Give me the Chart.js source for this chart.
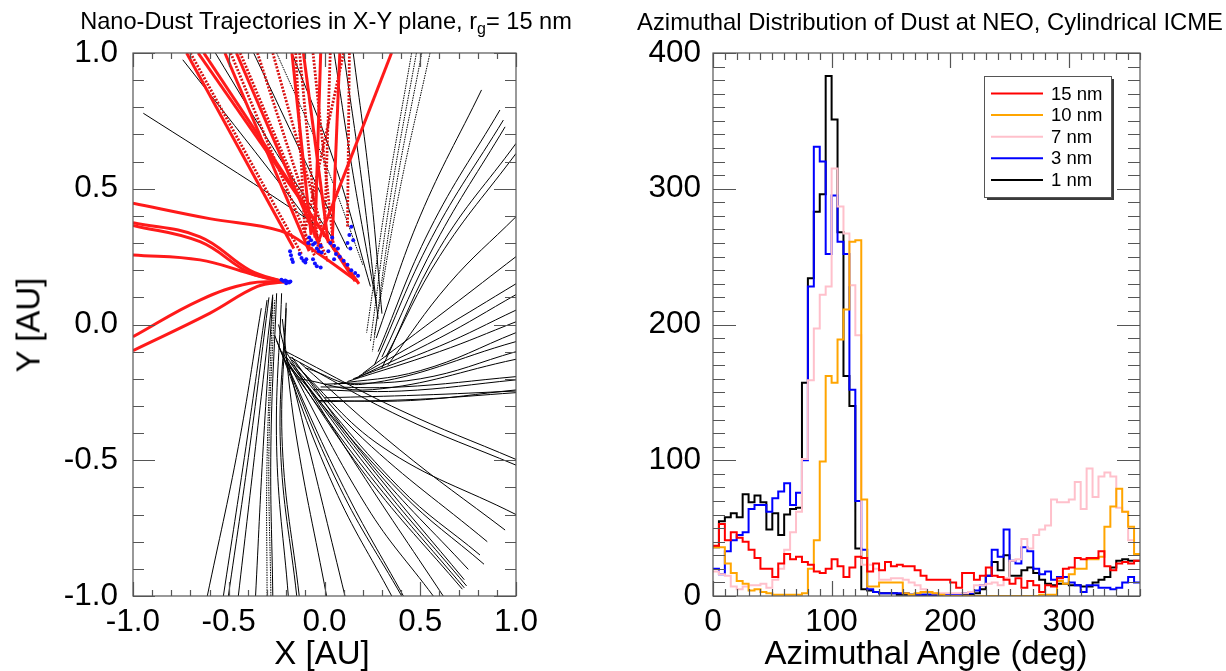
<!DOCTYPE html>
<html><head><meta charset="utf-8">
<script src="https://cdn.jsdelivr.net/npm/chart.js@4.4.1/dist/chart.umd.min.js"></script>
<style>
html,body{margin:0;padding:0;background:#fff;width:1226px;height:671px;overflow:hidden;font-family:'Liberation Sans',Arial,Helvetica,sans-serif;}
canvas{position:absolute;top:0;}
#c1{left:0;} #c2{left:613px;}
.t{position:absolute;white-space:nowrap;color:#000;line-height:1;}
.t sub{font-size:0.68em;vertical-align:-0.32em;line-height:0;}
#t1{left:326px;top:10px;font-size:23.6px;transform:translateX(-50%);}
#t2{left:930px;top:10px;font-size:23.8px;transform:translateX(-50%);}
#ax1{left:322px;top:636px;font-size:33px;transform:translateX(-50%);}
#ax2{left:926px;top:636px;font-size:33px;transform:translateX(-50%);}
#ay1{left:28px;top:325px;font-size:33px;transform:translate(-50%,-50%) rotate(-90deg);}
</style></head><body>
<canvas id="c1" width="613" height="671"></canvas>
<canvas id="c2" width="613" height="671"></canvas>
<div class="t" id="t1">Nano-Dust Trajectories in X-Y plane, r<sub>g</sub>= 15 nm</div>
<div class="t" id="t2">Azimuthal Distribution of Dust at NEO, Cylindrical ICME</div>
<div class="t" id="ax1">X [AU]</div>
<div class="t" id="ax2">Azimuthal Angle (deg)</div>
<div class="t" id="ay1">Y [AU]</div>
<script>
const family = "'Liberation Sans', Arial, Helvetica, sans-serif";

// ================= Histogram (right panel) data =================
const angleBins = [0,5,10,15,20,25,30,35,40,45,50,55,60,65,70,75,80,85,90,95,100,105,110,115,120,125,130,135,140,145,150,155,160,165,170,175,180,185,190,195,200,205,210,215,220,225,230,235,240,245,250,255,260,265,270,275,280,285,290,295,300,305,310,315,320,325,330,335,340,345,350,355];
const counts15nm = [37,53,41,47,43,40,34,28,20,20,14,24,31,27,29,25,23,18,17,20,27,22,14,21,29,28,18,24,19,25,22,23,22,22,19,15,12,12,12,12,10,6,17,17,12,15,21,15,14,12,9,13,6,11,8,3,8,7,13,20,21,28,27,28,28,33,22,19,24,25,24,26];
const counts10nm = [36,36,24,17,11,9,4,5,3,2,1,1,1,1,1,2,20,41,99,162,157,189,211,261,262,71,7,7,10,10,10,10,2,1,2,3,3,2,1,0,0,0,0,0,0,0,0,0,0,0,0,0,0,0,0,1,1,1,11,9,16,20,20,27,27,29,51,66,79,62,51,31];
const counts7nm  = [18,16,15,7,5,7,8,8,9,6,12,20,34,47,62,101,159,197,222,228,315,287,267,229,192,23,23,20,12,12,13,13,12,10,8,5,3,2,2,2,2,2,2,3,8,8,9,10,8,13,26,27,42,35,45,49,52,71,69,69,71,84,64,94,73,88,91,88,65,62,41,31];
const counts3nm  = [20,16,33,41,45,47,64,67,67,62,72,77,83,67,76,100,228,331,320,252,295,261,252,152,70,34,5,3,2,2,2,2,2,1,1,1,1,1,1,1,1,1,2,2,4,8,15,34,29,49,26,24,36,33,20,16,18,12,14,14,10,8,3,8,8,6,6,5,6,10,14,10];
const counts1nm  = [36,55,58,61,58,75,69,74,69,49,61,45,60,64,65,157,234,283,296,383,351,268,162,140,35,5,4,3,2,2,2,1,1,1,1,1,1,0,0,0,0,0,1,1,2,5,15,25,19,30,15,15,19,21,17,12,9,8,9,9,8,8,7,7,10,12,14,21,26,27,26,26];
const seriesLabels = ['15 nm','10 nm','7 nm','3 nm','1 nm'];
const histXTicks = [0,100,200,300];
const histXTickLabels = ['0','100','200','300'];
const histYTicks = [0,100,200,300,400];
const histYTickLabels = ['0','100','200','300','400'];

// ================= Trajectory (left panel) data, [X AU, Y AU] =================
const trajTicks = [-1,-0.5,0,0.5,1];
const trajTickLabels = ['-1.0','-0.5','0.0','0.5','1.0'];

const redCurvedTraj = [
  [[-1,0.447],[-0.6,0.39],[-0.23,0.345],[-0.05,0.27],[0.17,0.16]],
  [[-1,0.375],[-0.65,0.323],[-0.39,0.2],[-0.21,0.157]],
  [[-1,0.365],[-0.65,0.305],[-0.39,0.19],[-0.21,0.157]],
  [[-1,0.256],[-0.65,0.238],[-0.39,0.188],[-0.21,0.157]],
  [[-1,-0.045],[-0.65,0.09],[-0.39,0.152],[-0.21,0.157]],
  [[-1,-0.096],[-0.6,0.041],[-0.35,0.14],[-0.21,0.157]]
];
const redStraightTraj = [
  [[-0.72,1],[-0.16,0.28]],
  [[-0.66,1],[0.18,0.15]],
  [[-0.63,1],[0.16,0.16]],
  [[-0.52,1],[-0.08,0.27]],
  [[-0.46,1],[-0.02,0.28]],
  [[-0.17,1],[-0.07,0.33]],
  [[-0.11,1],[0.02,0.3]],
  [[-0.02,1],[-0.05,0.32]],
  [[0.08,1],[0.04,0.3]],
  [[0.35,1],[-0.03,0.31]]
];
const redDottedTraj = [
  [[-0.70,1],[-0.12,0.26]],
  [[-0.49,1],[-0.05,0.25]],
  [[-0.44,1],[0.02,0.23]],
  [[-0.35,1],[-0.03,0.3]],
  [[-0.27,1],[0.0,0.32]],
  [[-0.15,1],[-0.1,0.3]],
  [[-0.13,1],[-0.03,0.26]],
  [[-0.06,1],[0.05,0.27]],
  [[0.03,1],[0.0,0.34]],
  [[0.13,1],[0.12,0.36]],
  [[0.10,1],[-0.1,0.35]]
];
const blackSolidTraj = [
  [[-0.946,0.778],[-0.372,0.52],[-0.05,0.37]],
  [[-0.74,0.975],[-0.3,0.58],[-0.05,0.35]],
  [[-0.57,1],[-0.25,0.63],[0.04,0.32]],
  [[-0.37,1],[-0.1,0.6],[0.12,0.28]],
  [[-0.17,1],[0.05,0.6],[0.24,0.14]],
  [[0.05,1],[0.15,0.55],[0.27,0.08]],
  [[0.1,1],[0.2,0.5],[0.28,0.02]],
  [[0.15,1],[0.24,0.5],[0.3,0.04]],
  [[0.82,0.864],[0.5,0.4],[0.27,-0.05]],
  [[0.916,0.79],[0.55,0.35],[0.28,-0.1]],
  [[0.934,0.753],[0.56,0.32],[0.26,-0.15]],
  [[0.943,0.728],[0.58,0.3],[0.3,-0.12]],
  [[1.0,0.667],[0.6,0.28],[0.3,-0.16]],
  [[1.0,0.63],[0.6,0.25],[0.32,-0.12]],
  [[1.0,0.397],[0.65,0.15],[0.33,-0.15]],
  [[1.0,0.25],[0.65,0.06],[0.2,-0.18]],
  [[1.0,0.15],[0.6,-0.02],[0.18,-0.19]],
  [[1.0,0.11],[0.6,-0.05],[0.16,-0.2]],
  [[1.0,0.053],[0.6,-0.08],[0.15,-0.2]],
  [[1.0,0.01],[0.6,-0.1],[0.12,-0.21]],
  [[1.0,-0.03],[0.5,-0.17],[0.05,-0.22]],
  [[-0.1,-0.16],[0.2,-0.22],[1.0,-0.063]],
  [[0.0,-0.22],[0.5,-0.2],[1.0,-0.1]],
  [[-0.13,-0.2],[0.25,-0.24],[1.0,-0.128]],
  [[-0.02,-0.23],[0.4,-0.23],[1.0,-0.192]],
  [[-0.06,-0.24],[0.4,-0.245],[1.0,-0.204]],
  [[-0.03,-0.28],[0.45,-0.28],[1.0,-0.241]],
  [[-0.03,-0.285],[0.5,-0.275],[1.0,-0.251]],
  [[0.0,-0.27],[0.5,-0.26],[1.0,-0.245]],
  [[-0.2,-0.1],[0.394,-0.315],[1.0,-0.497]],
  [[-0.18,-0.12],[0.4,-0.34],[1.0,-0.518]],
  [[-0.15,-0.15],[0.3,-0.45],[1.0,-0.7]],
  [[-0.13,-0.14],[0.39,-0.46],[0.943,-0.757]],
  [[-0.17,-0.13],[0.2,-0.42],[0.85,-0.8]],
  [[-0.2,-0.12],[0.39,-0.6],[0.812,-0.849]],
  [[-0.2,-0.14],[0.4,-0.62],[0.833,-0.883]],
  [[-0.17,-0.12],[0.25,-0.52],[0.751,-0.902]],
  [[-0.18,-0.14],[0.25,-0.55],[0.742,-0.963]],
  [[-0.19,-0.15],[0.24,-0.56],[0.73,-0.97]],
  [[-0.2,-0.13],[0.22,-0.56],[0.72,-0.975]],
  [[-0.16,-0.16],[0.27,-0.55],[0.73,-0.94]],
  [[-0.22,-0.1],[0.22,-0.67],[0.568,-1.0]],
  [[-0.21,-0.09],[0.15,-0.5],[0.62,-1.0]],
  [[-0.24,-0.08],[0.1,-0.6],[0.412,-1.0]],
  [[-0.25,-0.06],[0.08,-0.6],[0.403,-1.0]],
  [[-0.26,-0.04],[0.05,-0.6],[0.351,-1.0]],
  [[-0.612,-1],[-0.45,-0.45],[-0.33,0.06]],
  [[-0.528,-1],[-0.41,-0.45],[-0.3,0.09]],
  [[-0.502,-1],[-0.39,-0.45],[-0.29,0.1]],
  [[-0.45,-1],[-0.36,-0.45],[-0.27,0.11]],
  [[-0.36,-1],[-0.32,-0.45],[-0.27,0.1]],
  [[-0.27,-1],[-0.28,-0.45],[-0.25,0.115]],
  [[-0.189,-1],[-0.25,-0.45],[-0.224,0.115]],
  [[-0.145,-1],[-0.23,-0.45],[-0.2,0.08]],
  [[-0.132,-1],[-0.22,-0.45],[-0.2,0.06]],
  [[0.011,-1],[-0.15,-0.4],[-0.22,0.02]],
  [[0.107,-1],[-0.1,-0.4],[-0.24,0.0]]
];
const blackDottedTraj = [
  [[-0.25,1],[0.0,0.6],[0.2,0.22]],
  [[0.455,1],[0.32,0.45],[0.22,-0.03]],
  [[0.48,1],[0.34,0.45],[0.24,-0.06]],
  [[0.508,1],[0.36,0.45],[0.25,-0.1]],
  [[0.551,1],[0.38,0.45],[0.26,-0.04]],
  [[-0.28,-1],[-0.29,-0.45],[-0.26,0.09]],
  [[-0.3,-1],[-0.3,-0.5],[-0.27,0.08]]
];
const blueEndPoints = [
  [-0.225,0.165],[-0.215,0.16],[-0.205,0.162],[-0.195,0.158],[-0.185,0.155],[-0.2,0.152],[-0.178,0.158],
  [-0.18,0.27],[-0.175,0.255],[-0.17,0.24],[-0.165,0.23],
  [-0.13,0.26],[-0.12,0.245],[-0.11,0.235],[-0.1,0.228],[-0.095,0.24],
  [-0.085,0.3],[-0.08,0.32],[-0.07,0.31],[-0.06,0.295],[-0.05,0.3],[-0.04,0.28],[-0.03,0.27],[-0.02,0.29],[-0.015,0.265],
  [-0.06,0.24],[-0.05,0.225],[-0.04,0.215],[-0.02,0.21],
  [0.02,0.27],[0.03,0.3],[0.04,0.32],[0.05,0.29],[0.06,0.26],[0.07,0.28],[0.08,0.25],[0.05,0.24],
  [0.12,0.3],[0.13,0.33],[0.14,0.36],[0.15,0.31],[0.135,0.28],
  [0.1,0.235],[0.12,0.22],[0.14,0.2],[0.16,0.19],[0.175,0.18]
];

// ================= helpers / plugins =================
function rangeVals(min, max, step){ const o=[]; for(let v=min; v<=max+1e-9; v+=step) o.push(+v.toFixed(6)); return o; }

const frameTicks = {
  id:'frameTicks',
  afterDatasetsDraw(chart, args, o){
    const {ctx, chartArea:a, scales:{x, y}} = chart;
    ctx.save();
    ctx.strokeStyle = '#555'; ctx.lineWidth = 1.2;
    ctx.beginPath();
    const xs = (vals, len) => vals.forEach(v => { const p = Math.round(x.getPixelForValue(v))+0.5;
      ctx.moveTo(p, a.bottom); ctx.lineTo(p, a.bottom-len); ctx.moveTo(p, a.top); ctx.lineTo(p, a.top+len); });
    const ys = (vals, len) => vals.forEach(v => { const p = Math.round(y.getPixelForValue(v))+0.5;
      ctx.moveTo(a.left, p); ctx.lineTo(a.left+len, p); ctx.moveTo(a.right, p); ctx.lineTo(a.right-len, p); });
    xs(rangeVals(o.xMin, o.xMax, o.xMinor), o.xMinLen);
    xs(o.xMajor, o.xMajLen);
    ys(rangeVals(o.yMin, o.yMax, o.yMinor), o.yMinLen);
    ys(o.yMajor, o.yMajLen);
    ctx.stroke();
    ctx.strokeRect(a.left, a.top, a.right-a.left, a.bottom-a.top);
    ctx.restore();
  }
};

const boxLegend = {
  id:'boxLegend',
  afterDraw(chart, args, o){
    const {ctx, chartArea:a} = chart;
    const w = 127, h = 121;
    const L = a.right - 29 - w, T = a.top + 23;
    ctx.save();
    ctx.fillStyle = '#3a3a3a';
    ctx.fillRect(L+3, T+3, w, h);
    ctx.fillStyle = '#fff';
    ctx.fillRect(L, T, w, h);
    ctx.strokeStyle = '#555'; ctx.lineWidth = 1;
    ctx.strokeRect(L+0.5, T+0.5, w, h);
    ctx.font = "18.5px " + family;
    ctx.textBaseline = 'middle';
    chart.data.datasets.forEach((ds, i) => {
      const yy = T + 17.5 + i*21.6;
      ctx.strokeStyle = ds.borderColor; ctx.lineWidth = 2;
      ctx.beginPath(); ctx.moveTo(L+7, yy); ctx.lineTo(L+59, yy); ctx.stroke();
      ctx.fillStyle = '#000';
      ctx.fillText(ds.label, L+67, yy+1);
    });
    ctx.restore();
  }
};

function axisCfg(min, max, vals, labels, isX, fixed, pad){
  return {
    type:'linear', min, max,
    afterBuildTicks(s){ s.ticks = vals.map(v => ({value:v})); },
    afterFit(s){ if (isX) s.height = fixed; else s.width = fixed; },
    ticks:{ callback:(v,i) => labels[i], color:'#000', font:{size:31.5, family}, padding:pad, maxRotation:0, autoSkip:false },
    grid:{ display:false, drawTicks:false },
    border:{ display:false }
  };
}

// ================= Left chart: trajectories =================
const toPts = tr => tr.map(p => ({x:p[0], y:p[1]}));
const trajDatasets = [];
trajDatasets.push({ data: toPts(blueEndPoints), showLine:false, pointRadius:2, pointBackgroundColor:'#1010ff', pointBorderWidth:0, order:0 });
redCurvedTraj.forEach(t => trajDatasets.push({ data: toPts(t), showLine:true, borderColor:'#ff1a1a', borderWidth:3, pointRadius:0, tension:0.4, order:1 }));
redStraightTraj.forEach(t => trajDatasets.push({ data: toPts(t), showLine:true, borderColor:'#ff1a1a', borderWidth:3, pointRadius:0, tension:0, order:1 }));
redDottedTraj.forEach(t => trajDatasets.push({ data: toPts(t), showLine:true, borderColor:'#d81010', borderWidth:2.8, borderDash:[2,1.5], pointRadius:0, tension:0, order:1 }));
blackSolidTraj.forEach(t => trajDatasets.push({ data: toPts(t), showLine:true, borderColor:'#000', borderWidth:1, pointRadius:0, tension:0.4, order:2 }));
blackDottedTraj.forEach(t => trajDatasets.push({ data: toPts(t), showLine:true, borderColor:'#000', borderWidth:1, borderDash:[1.5,1], pointRadius:0, tension:0.4, order:2 }));

new Chart(document.getElementById('c1'), {
  type:'scatter',
  data:{ datasets: trajDatasets },
  options:{
    responsive:false, animation:false, devicePixelRatio:1, events:[],
    layout:{ padding:{ top:53, right:97, left:0, bottom:0 } },
    plugins:{ legend:{display:false}, tooltip:{enabled:false},
      frameTicks:{ xMin:-1, xMax:1, xMinor:0.1, xMajor:trajTicks, xMinLen:6, xMajLen:14,
                   yMin:-1, yMax:1, yMinor:0.1, yMajor:trajTicks, yMinLen:11, yMajLen:22 } },
    scales:{
      x: axisCfg(-1, 1, trajTicks, trajTickLabels, true, 75, 7),
      y: axisCfg(-1, 1, trajTicks, trajTickLabels, false, 133, 15)
    }
  },
  plugins:[frameTicks]
});

// ================= Right chart: histogram =================
const stepPts = vals => angleBins.map((a,i) => ({x:a, y:vals[i]})).concat([{x:360, y:vals[vals.length-1]}]);
const histColors = ['#ff0000','#ffa500','#ffc0cb','#0000ff','#000000'];
const histSeries = [counts15nm, counts10nm, counts7nm, counts3nm, counts1nm];

new Chart(document.getElementById('c2'), {
  type:'line',
  data:{ datasets: histSeries.map((vals,i) => ({
    label: seriesLabels[i], data: stepPts(vals), borderColor: histColors[i], borderWidth:2,
    stepped:true, pointRadius:0, fill:false })) },
  options:{
    responsive:false, animation:false, devicePixelRatio:1, events:[],
    layout:{ padding:{ top:53, right:86, left:0, bottom:0 } },
    plugins:{ legend:{display:false}, tooltip:{enabled:false},
      frameTicks:{ xMin:0, xMax:360, xMinor:10, xMajor:histXTicks, xMinLen:7, xMajLen:15,
                   yMin:0, yMax:400, yMinor:10, yMajor:histYTicks, yMinLen:12, yMajLen:23 } },
    scales:{
      x: axisCfg(0, 360, histXTicks, histXTickLabels, true, 75, 7),
      y: axisCfg(0, 400, histYTicks, histYTickLabels, false, 100, 12)
    }
  },
  plugins:[frameTicks, boxLegend]
});
</script>
</body></html>
